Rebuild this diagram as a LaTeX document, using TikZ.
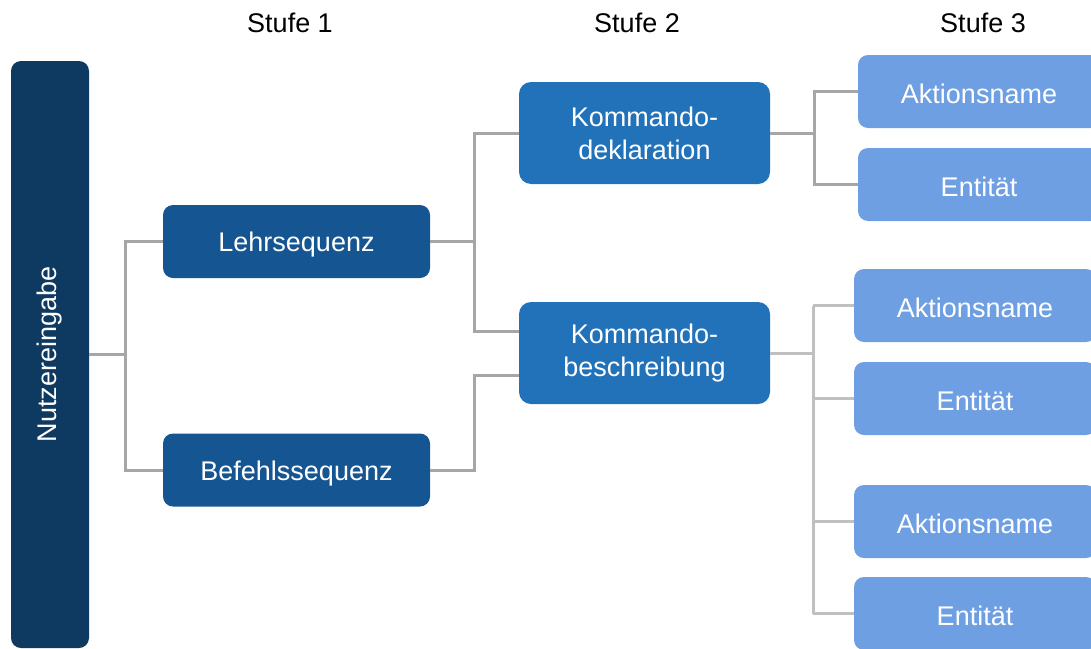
\documentclass[tikz,border=0pt]{standalone}
\usepackage{fontspec}
\setmainfont{Liberation Sans}
\definecolor{navy}{HTML}{0E3A62}
\definecolor{levelA}{HTML}{155592}
\definecolor{levelB}{HTML}{2272BA}
\definecolor{levelC}{HTML}{6E9FE3}
\definecolor{linkdark}{HTML}{A6A6A6}
\definecolor{linklight}{HTML}{C0C0C0}
\tikzset{
  box/.style={rectangle, rounded corners=10pt, inner sep=0pt, text=white,
    align=center, font=\fontsize{27}{33}\selectfont},
  rootbox/.style={box, fill=navy, minimum width=78pt, minimum height=587pt},
  boxA/.style={box, fill=levelA, minimum width=267pt, minimum height=73pt,
    text height=26pt, text depth=6pt},
  boxB/.style={box, fill=levelB, rounded corners=12pt, minimum width=251pt, minimum height=102pt},
  boxC/.style={box, fill=levelC, minimum width=242pt, minimum height=73pt,
    text height=24pt, text depth=0pt},
  link/.style={draw=linkdark, line width=3pt},
  linklt/.style={draw=linklight, line width=3pt},
  heading/.style={font=\fontsize{27}{33}\selectfont, text=black}
}
\begin{document}
\begin{tikzpicture}[x=1pt, y=-1pt]
\useasboundingbox (0,0) rectangle (1091,648);
\clip (0,0) rectangle (1091,648);

% column headings
\node[heading] (h1) at (290,23) {Stufe 1};
\node[heading] (h2) at (637,23) {Stufe 2};
\node[heading] (h3) at (983,23) {Stufe 3};

% boxes
\node[rootbox] (root) at (50,354.5) {\rotatebox{90}{Nutzereingabe}};
\node[boxA] (lehr) at (296.5,241.5) {Lehrsequenz};
\node[boxA] (befehl) at (296.5,470) {Befehlssequenz};
\node[boxB] (kd) at (644.5,133) {Kommando-\\deklaration};
\node[boxB] (kb) at (644.5,353) {Kommando-\\beschreibung};
\node[boxC] (a1) at (979,91.5) {Aktionsname};
\node[boxC] (e1) at (979,184.5) {Entität};
\node[boxC] (a2) at (975,305.5) {Aktionsname};
\node[boxC] (e2) at (975,398.5) {Entität};
\node[boxC] (a3) at (975,521.5) {Aktionsname};
\node[boxC] (e3) at (975,613.5) {Entität};

% connectors
\coordinate (jr) at ([xshift=36pt]root.east);
\coordinate (jl) at ([xshift=44pt]lehr.east);
\coordinate (jb) at ([xshift=44pt]befehl.east);
\coordinate (jd) at ([xshift=44pt]kd.east);
\coordinate (jk) at ([xshift=43pt]kb.east);

\draw[link] (root.east) -- (jr) |- (lehr.west);
\draw[link] (jr) |- (befehl.west);
\draw[link] (lehr.east) -- (jl) |- ([yshift=22pt]kb.west);
\draw[link] (jl) |- (kd.west);
\draw[link] (befehl.east) -- (jb) |- ([yshift=-22pt]kb.west);
\draw[link] (kd.east) -- (jd) |- (a1.west);
\draw[link] (jd) |- (e1.west);
\draw[linklt] (kb.east) -- (jk);
\draw[linklt] (jk |- a2.west) -- (jk |- e3.west);
\draw[linklt] (jk |- a2.west) -- (a2.west);
\draw[linklt] (jk |- e2.west) -- (e2.west);
\draw[linklt] (jk |- a3.west) -- (a3.west);
\draw[linklt] (jk |- e3.west) -- (e3.west);
\end{tikzpicture}
\end{document}
